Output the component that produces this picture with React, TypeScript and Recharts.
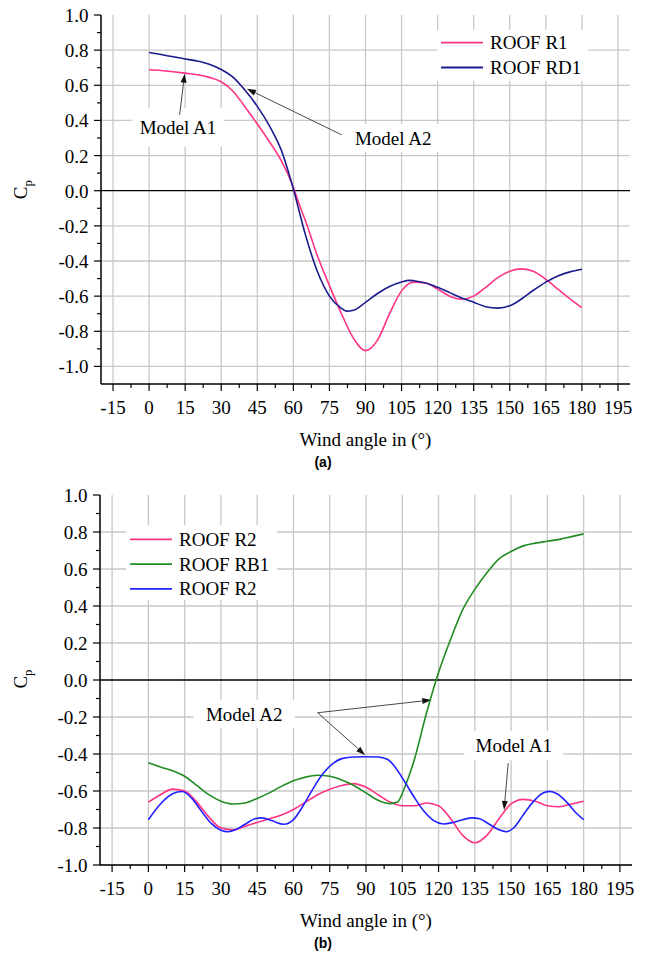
import {
  CartesianGrid,
  Legend,
  Line,
  LineChart,
  ReferenceArea,
  ReferenceLine,
  XAxis,
  YAxis,
} from "recharts";

const SERIF = '"Liberation Serif", "Times New Roman", serif';
const SANS = '"Liberation Sans", Arial, sans-serif';
const W = 646;

// axis ticks
const xMajor = [-15, 0, 15, 30, 45, 60, 75, 90, 105, 120, 135, 150, 165, 180, 195];
const xMinor = [-7.5, 7.5, 22.5, 37.5, 52.5, 67.5, 82.5, 97.5, 112.5, 127.5, 142.5, 157.5, 172.5, 187.5];
const yMajor = [-1.0, -0.8, -0.6, -0.4, -0.2, 0.0, 0.2, 0.4, 0.6, 0.8, 1.0];
const yMinor = [-0.9, -0.7, -0.5, -0.3, -0.1, 0.1, 0.3, 0.5, 0.7, 0.9];

// (a) model A1 / A2
const r1Angle = [0, 5, 10, 15, 20, 25, 30, 35, 40, 45, 50, 55, 60, 62, 65, 70, 75, 80, 85, 90, 95, 100, 105, 110, 115, 120, 125, 130, 135, 140, 145, 150, 155, 160, 165, 170, 175, 180];
const r1Cp = [0.688, 0.684, 0.677, 0.669, 0.66, 0.645, 0.62, 0.565, 0.475, 0.38, 0.28, 0.17, 0.02, -0.06, -0.17, -0.37, -0.54, -0.7, -0.84, -0.91, -0.85, -0.7, -0.57, -0.52, -0.525, -0.56, -0.6, -0.617, -0.6, -0.55, -0.495, -0.458, -0.445, -0.46, -0.505, -0.56, -0.615, -0.665];

const rd1Angle = [0, 5, 10, 15, 20, 25, 30, 35, 40, 45, 50, 55, 60, 65, 70, 75, 80, 82, 85, 90, 95, 100, 105, 108, 110, 115, 120, 125, 130, 135, 140, 145, 150, 155, 160, 165, 170, 175, 180];
const rd1Cp = [0.787, 0.775, 0.762, 0.75, 0.738, 0.72, 0.69, 0.645, 0.57, 0.48, 0.37, 0.23, 0.01, -0.25, -0.46, -0.6, -0.67, -0.685, -0.68, -0.635, -0.585, -0.545, -0.52, -0.51, -0.512, -0.525, -0.55, -0.58, -0.61, -0.635, -0.66, -0.668, -0.655, -0.615, -0.565, -0.52, -0.485, -0.462, -0.447];

// (b)
const r2Angle = [0, 5, 10, 15, 20, 25, 30, 35, 40, 45, 50, 55, 60, 65, 70, 75, 80, 85, 90, 95, 100, 105, 110, 115, 120, 125, 130, 135, 140, 145, 150, 155, 160, 165, 170, 175, 180];
const r2Cp = [-0.66, -0.62, -0.59, -0.6, -0.66, -0.74, -0.8, -0.81, -0.79, -0.77, -0.75, -0.73, -0.7, -0.66, -0.62, -0.59, -0.57, -0.56, -0.58, -0.62, -0.66, -0.68, -0.68, -0.665, -0.68, -0.75, -0.84, -0.88, -0.84, -0.75, -0.67, -0.645, -0.655, -0.68, -0.685, -0.67, -0.655];

const rb1Angle = [0, 5, 10, 15, 20, 25, 30, 35, 40, 45, 50, 55, 60, 65, 70, 75, 80, 85, 90, 95, 100, 103, 106, 110, 115, 120, 125, 130, 135, 140, 145, 150, 155, 160, 165, 170, 175, 180];
const rb1Cp = [-0.447, -0.47, -0.49, -0.52, -0.57, -0.62, -0.655, -0.67, -0.665, -0.64, -0.61, -0.575, -0.545, -0.525, -0.515, -0.52, -0.54, -0.57, -0.61, -0.65, -0.668, -0.66, -0.58, -0.43, -0.18, 0.04, 0.22, 0.38, 0.49, 0.58, 0.655, 0.695, 0.725, 0.74, 0.75, 0.76, 0.775, 0.79];

const r2bAngle = [0, 5, 10, 14, 18, 22, 26, 30, 33, 36, 40, 44, 47, 51, 56, 60, 64, 68, 72, 76, 80, 85, 90, 95, 99, 102, 106, 110, 114, 118, 122, 126, 130, 134, 137, 141, 145, 148, 151, 155, 159, 163, 166, 169, 173, 177, 180];
const r2bCp = [-0.755, -0.67, -0.615, -0.603, -0.64, -0.71, -0.775, -0.812, -0.82, -0.81, -0.78, -0.75, -0.745, -0.76, -0.78, -0.755, -0.68, -0.59, -0.51, -0.455, -0.425, -0.416, -0.415, -0.416, -0.43, -0.47, -0.55, -0.635, -0.71, -0.76, -0.778, -0.77, -0.755, -0.745, -0.75, -0.78, -0.81, -0.82, -0.8, -0.73, -0.66, -0.612, -0.602, -0.615, -0.66, -0.72, -0.755];

const rows = (angle: number[], cp: number[]) => angle.map((a, i) => ({ angle: a, cp: cp[i] }));

const PINK = "#ff3385";
const NAVY = "#1a1a8c";
const GREEN = "#228b22";
const BLUE = "#2222ff";

const TICK = 7;

function XTick(props: any) {
  const { x, y, payload } = props;
  const v = payload.value as number;
  const major = xMajor.includes(v);
  const y0 = y - TICK;
  return (
    <g>
      <line x1={x} x2={x} y1={y0} y2={y0 + (major ? 7 : 4)} stroke="#000" strokeWidth={1.2} />
      {major && (
        <text x={x} y={y0 + 29.5} textAnchor="middle" fontFamily={SERIF} fontSize={19} fill="#000">
          {v}
        </text>
      )}
    </g>
  );
}

function YTick(props: any) {
  const { x, y, payload } = props;
  const v = payload.value as number;
  const major = yMajor.some((m) => Math.abs(m - v) < 1e-6);
  const x0 = x + TICK;
  return (
    <g>
      <line x1={x0} x2={x0 - (major ? 7 : 4)} y1={y} y2={y} stroke="#000" strokeWidth={1.2} />
      {major && (
        <text x={x0 - 12.4} y={y + 7} textAnchor="end" fontFamily={SERIF} fontSize={19} fill="#000">
          {v.toFixed(1)}
        </text>
      )}
    </g>
  );
}

function Arrow(p: any) {
  const { x1, y1, x2, y2 } = p;
  const a = Math.atan2(y2 - y1, x2 - x1);
  const L = 9;
  const H = 3;
  const bx = x2 - L * Math.cos(a);
  const by = y2 - L * Math.sin(a);
  const pts = `${x2},${y2} ${bx + H * Math.sin(a)},${by - H * Math.cos(a)} ${bx - H * Math.sin(a)},${by + H * Math.cos(a)}`;
  return (
    <g>
      <line x1={x1} y1={y1} x2={bx} y2={by} stroke="#333" strokeWidth={0.9} />
      <polygon points={pts} fill="#111" />
    </g>
  );
}

function LegendBox({ items, width, height, top }: { items: { name: string; color: string }[]; width: number; height: number; top: number }) {
  return (
    <svg width={width} height={height} style={{ display: "block" }}>
      <rect x={0} y={0} width={width} height={height} fill="#fff" />
      {items.map((it, i) => {
        const cy = top + i * 24.8;
        return (
          <g key={i}>
            <line x1={4} x2={46} y1={cy} y2={cy} stroke={it.color} strokeWidth={1.8} />
            <text x={53} y={cy + 6.5} fontFamily={SERIF} fontSize={19} fill="#000">
              {it.name}
            </text>
          </g>
        );
      })}
    </svg>
  );
}

function Panel({
  height,
  margin,
  yDomain,
  series,
  legend,
  legendPos,
  notes,
  arrows,
  tag,
}: any) {
  const plotLeft = margin.left + 60;
  const plotRight = W - margin.right;
  const plotBottom = height - margin.bottom - 40;
  const zeroY = margin.top + ((yDomain[1] - 0) / (yDomain[1] - yDomain[0])) * (plotBottom - margin.top);
  const cx = (plotLeft + plotRight) / 2;

  const xCaption = () => (
    <g>
      <text x={cx} y={plotBottom + 62} textAnchor="middle" fontFamily={SERIF} fontSize={19} fill="#000">
        Wind angle in (°)
      </text>
      <text x={W / 2} y={plotBottom + 83} textAnchor="middle" fontFamily={SANS} fontWeight="bold" fontSize={14} fill="#000">
        {tag}
      </text>
    </g>
  );
  const yCaption = () => (
    <text transform={`translate(27, ${zeroY - 1}) rotate(-90)`} textAnchor="middle" fontFamily={SERIF} fontSize={19} fill="#000">
      <tspan>C</tspan>
      <tspan fontSize={13} dy={5}>p</tspan>
    </text>
  );

  return (
    <LineChart width={W} height={height} margin={margin}>
      <CartesianGrid
        stroke="#c8c8c8"
        strokeWidth={1.3}
        verticalValues={xMajor}
        horizontalValues={yMajor.filter((v) => v !== 0 && v !== 1)}
      />
      <XAxis
        dataKey="angle"
        type="number"
        domain={[-20, 200]}
        ticks={[...xMajor, ...xMinor].sort((a, b) => a - b)}
        interval={0}
        tickSize={TICK}
        tickMargin={0}
        tickLine={false}
        tick={<XTick />}
        height={40}
        axisLine={{ stroke: "#000", strokeWidth: 1.5 }}
        label={xCaption}
        allowDataOverflow
      />
      <YAxis
        type="number"
        domain={yDomain}
        ticks={[...yMajor, ...yMinor].sort((a, b) => a - b)}
        interval={0}
        tickSize={TICK}
        tickMargin={0}
        tickLine={false}
        tick={<YTick />}
        width={60}
        axisLine={{ stroke: "#000", strokeWidth: 1.5 }}
        label={yCaption}
        allowDataOverflow
      />
      <ReferenceLine y={0} stroke="#000" strokeWidth={1.3} />
      {notes.map((n: any, i: number) => (
        <ReferenceArea
          key={`n${i}`}
          x1={n.x1}
          x2={n.x2}
          y1={n.y1}
          y2={n.y2}
          fill="#fff"
          fillOpacity={1}
          stroke="none"
          label={{ value: n.text, position: "center", fontFamily: SERIF, fontSize: 19, fill: "#000" }}
        />
      ))}
      {arrows.map((a: any, i: number) => (
        <ReferenceLine
          key={`a${i}`}
          segment={[
            { x: a.from[0], y: a.from[1] },
            { x: a.to[0], y: a.to[1] },
          ]}
          shape={<Arrow />}
        />
      ))}
      {series.map((s: any) => (
        <Line
          key={s.name + s.color}
          data={s.data}
          dataKey="cp"
          name={s.name}
          type="monotone"
          stroke={s.color}
          strokeWidth={1.6}
          dot={false}
          activeDot={false}
          isAnimationActive={false}
        />
      ))}
      <Legend
        layout="vertical"
        align="center"
        verticalAlign="middle"
        wrapperStyle={{ left: legendPos.left, top: legendPos.top, width: legendPos.width, height: legendPos.height }}
        content={() => (
          <LegendBox items={legend} width={legendPos.width} height={legendPos.height} top={legendPos.first} />
        )}
      />
    </LineChart>
  );
}

export default function App() {
  const topSeries = [
    { name: "ROOF R1", color: PINK, data: rows(r1Angle, r1Cp) },
    { name: "ROOF RD1", color: NAVY, data: rows(rd1Angle, rd1Cp) },
  ];
  const bottomSeries = [
    { name: "ROOF R2", color: PINK, data: rows(r2Angle, r2Cp) },
    { name: "ROOF RB1", color: GREEN, data: rows(rb1Angle, rb1Cp) },
    { name: "ROOF R2", color: BLUE, data: rows(r2bAngle, r2bCp) },
  ];

  return (
    <div style={{ position: "relative", width: W, height: 954, background: "#fff" }}>
      <style>{"body{margin:0;}"}</style>
      <div style={{ position: "absolute", left: 0, top: 0 }}>
        <Panel
          height={470}
          margin={{ top: 15, right: 16, bottom: 46, left: 41 }}
          yDomain={[-1.1, 1.0]}
          series={topSeries}
          legend={topSeries}
          legendPos={{ left: 437, top: 30, width: 151, height: 51, first: 12.7 }}
          notes={[
            { text: "Model A1", x1: -7, x2: 31, y1: 0.25, y2: 0.47 },
            { text: "Model A2", x1: 82, x2: 121, y1: 0.22, y2: 0.38 },
          ]}
          arrows={[
            { from: [12.7, 0.432], to: [14.8, 0.666] },
            { from: [80.1, 0.318], to: [40.7, 0.58] },
          ]}
          tag="(a)"
        />
      </div>
      <div style={{ position: "absolute", left: 0, top: 470 }}>
        <Panel
          height={484}
          margin={{ top: 25, right: 14, bottom: 49, left: 40 }}
          yDomain={[-1.0, 1.0]}
          series={bottomSeries}
          legend={bottomSeries}
          legendPos={{ left: 126, top: 55, width: 151, height: 75, first: 14.3 }}
          notes={[
            { text: "Model A2", x1: 18.7, x2: 60.6, y1: -0.259, y2: -0.108 },
            { text: "Model A1", x1: 130.6, x2: 171.6, y1: -0.432, y2: -0.276 },
          ]}
          arrows={[
            { from: [70, -0.177], to: [117, -0.108] },
            { from: [70, -0.177], to: [89.6, -0.405] },
            { from: [148.8, -0.449], to: [147.1, -0.703] },
          ]}
          tag="(b)"
        />
      </div>
    </div>
  );
}
